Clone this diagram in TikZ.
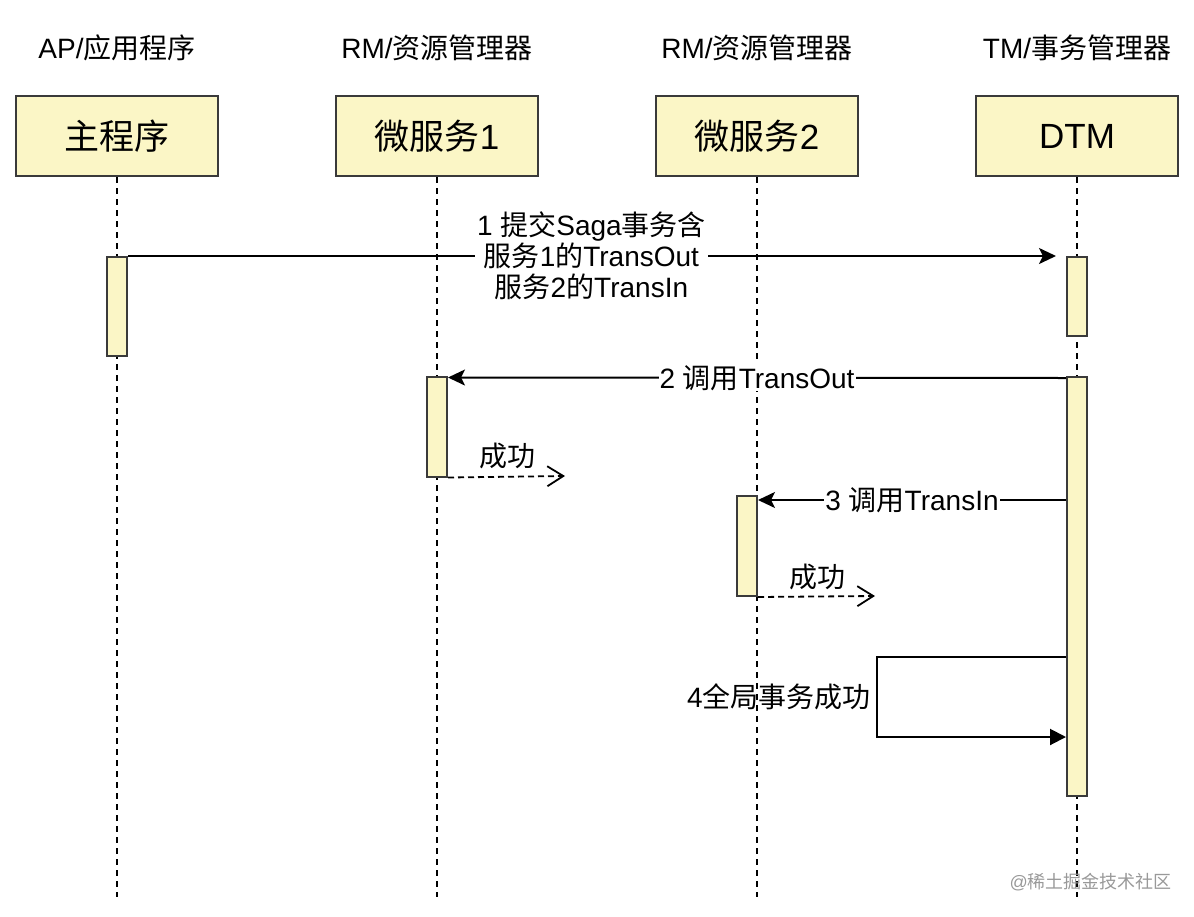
\documentclass[tikz,border=0pt]{standalone}
\usepackage{fontspec}
\setmainfont{Liberation Sans}
\newfontfamily\cjk{Noto Sans CJK SC}
\usetikzlibrary{arrows.meta}
\definecolor{boxfill}{HTML}{FBF6C6}
\definecolor{boxline}{HTML}{3A3A3A}
\tikzset{
  actorbox/.style={draw=boxline, fill=boxfill, line width=2pt, minimum width=202pt, minimum height=80pt, inner sep=0pt, font=\fontsize{35}{40}\selectfont},
  header/.style={font=\fontsize{28}{32}\selectfont, inner sep=0pt},
  actbar/.style={draw=boxline, fill=boxfill, line width=2pt, minimum width=20pt, inner sep=0pt},
  lifeline/.style={line width=2pt, dash pattern=on 6pt off 5pt},
  msg/.style={line width=2pt, -{Stealth[length=17pt,width=16pt,inset=4pt]}},
  selfmsg/.style={line width=2pt, -{Triangle[length=16pt,width=16pt]}},
  retmsg/.style={line width=1.8pt, dash pattern=on 6pt off 4pt, -{Straight Barb[length=16pt,width=20pt,line width=1.8pt]}},
  lbl/.style={font=\fontsize{28}{31}\selectfont, fill=white, inner sep=2pt, align=center},
  plainlbl/.style={font=\fontsize{28}{31}\selectfont, inner sep=0pt},
}
\begin{document}
\begin{tikzpicture}[x=1pt,y=-1pt]
\useasboundingbox (0,0) rectangle (1194,916);
% headers
\node[header] (h1) at (117,48) {AP/{\cjk 应用程序}};
\node[header] (h2) at (437,48) {RM/{\cjk 资源管理器}};
\node[header] (h3) at (757,48) {RM/{\cjk 资源管理器}};
\node[header] (h4) at (1077,48) {TM/{\cjk 事务管理器}};
% actors
\node[actorbox] (a1) at (116.5,136) {\cjk 主程序};
\node[actorbox] (a2) at (437,136) {{\cjk 微服务}1};
\node[actorbox] (a3) at (757,136) {{\cjk 微服务}2};
\node[actorbox] (a4) at (1077,136) {DTM};
% lifeline ends
\coordinate (e1) at (117,897);
\coordinate (e2) at (437,897);
\coordinate (e3) at (757,897);
\coordinate (e4) at (1077,897);
\draw[lifeline] (a1.south -| e1) -- (e1);
\draw[lifeline] (a2.south) -- (e2);
\draw[lifeline] (a3.south) -- (e3);
\draw[lifeline] (a4.south) -- (e4);
% activation bars
\node[actbar, minimum height=99pt] (b0) at (117,306.5) {};
\node[actbar, minimum height=79pt] (d1) at (1077,296.5) {};
\node[actbar, minimum height=419pt] (d2) at (1077,586.5) {};
\node[actbar, minimum height=100pt] (m1) at (437,426.5) {};
\node[actbar, minimum height=100pt] (m2) at (747,546) {};
% message 1
\draw[msg, shorten >=10pt] (b0.north east) -- (d1.north west)
  node[lbl, pos=0.494] (l1) {1 {\cjk 提交}Saga{\cjk 事务含}\\{\cjk 服务}1{\cjk 的}TransOut\\{\cjk 服务}2{\cjk 的}TransIn};
% message 2
\draw[msg] ([yshift=-2pt]d2.north west) -- ([yshift=-2pt]m1.north east)
  node[lbl, midway, inner sep=1pt] (l2) {2 {\cjk 调用}TransOut};
% message 3
\coordinate (y3) at (0,500);
\draw[msg] (d2.west |- y3) -- (m2.east |- y3)
  node[lbl, midway, inner sep=1pt] (l3) {3 {\cjk 调用}TransIn};
% return 1
\coordinate (r1) at (565,476);
\draw[retmsg] (m1.south east) -- (r1);
\node[plainlbl] (s1) at (507,456) {\cjk 成功};
% return 2
\coordinate (r2) at (875,596);
\draw[retmsg] (m2.south east) -- (r2);
\node[plainlbl] (s2) at (817,577) {\cjk 成功};
% self message 4
\coordinate (c4a) at (877,657);
\coordinate (c4b) at (877,737);
\draw[selfmsg] (d2.west |- c4a) -- (c4a) -- (c4b) -- (d2.west |- c4b);
\node[plainlbl, anchor=east] (l4) at (871,697) {4{\cjk 全局事务成功}};
% watermark
\node[font=\fontsize{18}{20}\selectfont, text=black!40, inner sep=0pt, anchor=east] (wm) at (1172,882) {@{\cjk 稀土掘金技术社区}};
\end{tikzpicture}
\end{document}
